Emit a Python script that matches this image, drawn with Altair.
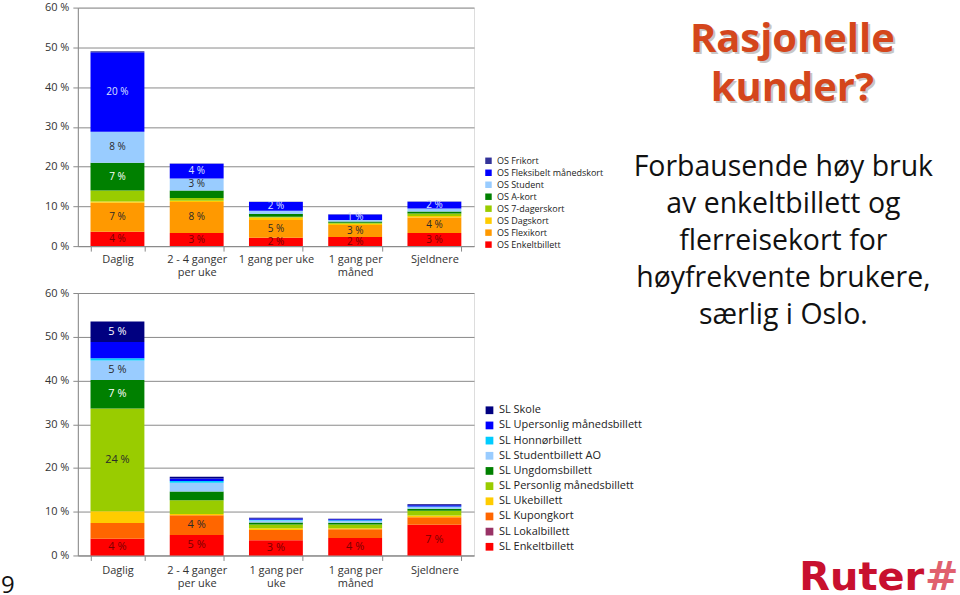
import altair as alt
import pandas as pd

# ---------------- data ----------------
OS_CATS = ["Daglig", "2 - 4 ganger|per uke", "1 gang per uke", "1 gang per|måned", "Sjeldnere"]
SL_CATS = ["Daglig", "2 - 4 ganger|per uke", "1 gang per|uke", "1 gang per|måned", "Sjeldnere"]

# stacking order: bottom -> top
OS_SERIES = ["OS Enkeltbillett", "OS Flexikort", "OS Dagskort", "OS 7-dagerskort",
             "OS A-kort", "OS Student", "OS Fleksibelt månedskort", "OS Frikort"]
OS_COLORS = ["#FF0000", "#FF9900", "#FFCC00", "#99CC00",
             "#008000", "#99CCFF", "#0000FF", "#333399"]
OS_VALUES = {
    "OS Enkeltbillett":         [3.6, 3.3, 2.1, 2.3, 3.3],
    "OS Flexikort":             [7.3, 7.8, 4.5, 3.0, 3.9],
    "OS Dagskort":              [0.3, 0.3, 0.6, 0.3, 0.4],
    "OS 7-dagerskort":          [2.8, 0.7, 0.2, 0.25, 0.6],
    "OS A-kort":                [7.0, 1.9, 0.7, 0.35, 0.5],
    "OS Student":               [7.8, 3.0, 0.8, 0.35, 0.75],
    "OS Fleksibelt månedskort": [20.0, 3.7, 2.2, 1.4, 1.7],
    "OS Frikort":               [0.2, 0.1, 0.05, 0.05, 0.05],
}
OS_LABELS = {
    "OS Enkeltbillett":         ["4 %", "3 %", "2 %", "2 %", "3 %"],
    "OS Flexikort":             ["7 %", "8 %", "5 %", "3 %", "4 %"],
    "OS A-kort":                ["7 %", "", "", "", ""],
    "OS Student":               ["8 %", "3 %", "", "", ""],
    "OS Fleksibelt månedskort": ["20 %", "4 %", "2 %", "1 %", "2 %"],
}

SL_SERIES = ["SL Enkeltbillett", "SL Lokalbillett", "SL Kupongkort", "SL Ukebillett",
             "SL Personlig månedsbillett", "SL Ungdomsbillett", "SL Studentbillett AO",
             "SL Honnørbillett", "SL Upersonlig månedsbillett", "SL Skole"]
SL_COLORS = ["#FF0000", "#993366", "#FF6600", "#FFCC00", "#99CC00",
             "#008000", "#99CCFF", "#00CCFF", "#0000FF", "#000080"]
SL_VALUES = {
    "SL Enkeltbillett":            [3.8, 4.7, 3.5, 4.0, 7.0],
    "SL Lokalbillett":             [0.0, 0.0, 0.0, 0.0, 0.0],
    "SL Kupongkort":               [3.6, 4.5, 2.3, 2.0, 1.75],
    "SL Ukebillett":               [2.7, 0.3, 0.4, 0.2, 0.4],
    "SL Personlig månedsbillett":  [23.5, 3.1, 0.9, 0.9, 1.1],
    "SL Ungdomsbillett":           [6.5, 2.0, 0.45, 0.4, 0.45],
    "SL Studentbillett AO":        [4.5, 2.0, 0.45, 0.4, 0.4],
    "SL Honnørbillett":            [0.5, 0.4, 0.15, 0.15, 0.1],
    "SL Upersonlig månedsbillett": [3.7, 0.6, 0.3, 0.25, 0.3],
    "SL Skole":                    [4.7, 0.4, 0.15, 0.1, 0.2],
}
SL_LABELS = {
    "SL Enkeltbillett":           ["4 %", "5 %", "3 %", "4 %", "7 %"],
    "SL Kupongkort":              ["", "4 %", "", "", ""],
    "SL Personlig månedsbillett": ["24 %", "", "", "", ""],
    "SL Ungdomsbillett":          ["7 %", "", "", "", ""],
    "SL Studentbillett AO":       ["5 %", "", "", "", ""],
    "SL Skole":                   ["5 %", "", "", "", ""],
}

TITLE_LINES = ["Rasjonelle", "kunder?"]
BODY_LINES = ["Forbausende høy bruk", "av enkeltbillett og", "flerreisekort for",
              "høyfrekvente brukere,", "særlig i Oslo."]
SLIDE_NO = "9"
LOGO = "Ruter"

FONT = "Open Sans"


def build_df(cats, series, values, labels):
    rows = []
    for si, s in enumerate(series):
        for ci, c in enumerate(cats):
            rows.append({"cat": c, "series": s, "value": values[s][ci],
                         "order": si, "label": labels.get(s, [""] * len(cats))[ci]})
    return pd.DataFrame(rows)


def y_axis():
    return alt.Axis(values=[0, 10, 20, 30, 40, 50, 60], labelExpr="datum.value + ' %'",
                    grid=True, gridColor="#8a8a8a", gridWidth=1, tickColor="#8a8a8a",
                    tickSize=5, domainColor="#8a8a8a", labelFont=FONT, labelFontSize=11,
                    labelColor="#333333", labelPadding=4, title=None)


def x_axis(pad):
    return alt.Axis(labelExpr="split(datum.label, '|')", labelAngle=0, tickBand="extent",
                    tickSize=5, tickColor="#8a8a8a", domainColor="#8a8a8a",
                    labelFont=FONT, labelFontSize=11, labelColor="#333333",
                    labelLineHeight=13, labelPadding=pad, title=None)


def stacked_chart(df, cats, series, colors, legend_x, legend_y,
                  legend_font, legend_row_pad, symbol_size, label_size, xpad,
                  light_series, maroon_series, pale_series):
    legend_domain = list(reversed(series))
    legend_range = list(reversed(colors))
    base = alt.Chart(df).transform_stack(
        stack="value", groupby=["cat"], as_=["y0", "y1"],
        sort=[alt.SortField("order", order="ascending")]
    ).transform_calculate(mid="(datum.y0 + datum.y1) / 2")

    xenc = alt.X("cat:N", sort=cats, axis=x_axis(xpad),
                 scale=alt.Scale(paddingInner=0.32, paddingOuter=0.16))
    bars = base.mark_bar(stroke=None).encode(
        x=xenc,
        y=alt.Y("y0:Q", scale=alt.Scale(domain=[0, 60], nice=False), axis=y_axis()),
        y2="y1:Q",
        color=alt.Color("series:N", scale=alt.Scale(domain=legend_domain, range=legend_range),
                        legend=alt.Legend(orient="none", legendX=legend_x, legendY=legend_y,
                                          title=None, symbolType="square",
                                          symbolSize=symbol_size, symbolStrokeWidth=0,
                                          symbolOpacity=1, labelFont=FONT,
                                          labelFontSize=legend_font, labelColor="#222222",
                                          rowPadding=legend_row_pad, labelOffset=4)),
    )
    light_test = "indexof(" + str(light_series) + ", datum.series) >= 0"
    maroon_test = "indexof(" + str(maroon_series) + ", datum.series) >= 0"
    pale_test = "indexof(" + str(pale_series) + ", datum.series) >= 0"
    labels = base.transform_filter("datum.label != ''").transform_calculate(
        lc=f"{light_test} ? '#ffffff' : ({pale_test} ? '#dde3ff' : ({maroon_test} ? '#7a0000' : '#2a2a2a'))"
    ).mark_text(font=FONT, fontSize=label_size, baseline="middle").encode(
        x=xenc,
        y=alt.Y("mid:Q", scale=alt.Scale(domain=[0, 60], nice=False), axis=y_axis()),
        text="label:N",
        color=alt.Color("lc:N", scale=None),
    )
    return bars, labels


W = 397
TOP_H = 239
BOT_H = 263

os_df = build_df(OS_CATS, OS_SERIES, OS_VALUES, OS_LABELS)
sl_df = build_df(SL_CATS, SL_SERIES, SL_VALUES, SL_LABELS)

os_bars, os_labels = stacked_chart(
    os_df, OS_CATS, OS_SERIES, OS_COLORS, 407, 149, 9, 2, 42, 10, 2,
    ["OS A-kort", "OS Frikort"], ["OS Enkeltbillett"], ["OS Fleksibelt månedskort"])
sl_bars, sl_labels = stacked_chart(
    sl_df, SL_CATS, SL_SERIES, SL_COLORS, 407, 112, 11, 3.2, 60, 11, 4,
    ["SL Ungdomsbillett", "SL Skole", "SL Upersonlig månedsbillett"],
    ["SL Enkeltbillett"], [])

one = pd.DataFrame({"k": [0]})

title_shadow = alt.Chart(one).mark_text(
    font=FONT, fontSize=40, fontWeight="bold", color="#9a9a9a", opacity=0.55,
    align="center", baseline="alphabetic", lineHeight=50
).encode(x=alt.value(718), y=alt.value(46), text=alt.value(TITLE_LINES))
title_txt = alt.Chart(one).mark_text(
    font=FONT, fontSize=40, fontWeight="bold", color="#D4461C",
    align="center", baseline="alphabetic", lineHeight=50
).encode(x=alt.value(716), y=alt.value(44), text=alt.value(TITLE_LINES))
body_txt = alt.Chart(one).mark_text(
    font=FONT, fontSize=28.5, color="#111111",
    align="center", baseline="alphabetic", lineHeight=37
).encode(x=alt.value(707), y=alt.value(169), text=alt.value(BODY_LINES))

top = alt.layer(os_bars, os_labels, title_shadow, title_txt, body_txt).properties(
    width=W, height=TOP_H)

slide_no = alt.Chart(one).mark_text(
    font=FONT, fontSize=24, color="#111111", align="left", baseline="alphabetic"
).encode(x=alt.value(-77), y=alt.value(301), text=alt.value(SLIDE_NO))
logo_txt = alt.Chart(one).mark_text(
    font="DejaVu Sans", fontSize=40, fontWeight="bold", color="#C8102E",
    align="left", baseline="alphabetic"
).encode(x=alt.value(723), y=alt.value(298), text=alt.value(LOGO))
logo_hash = alt.Chart(one).mark_text(
    font="DejaVu Sans", fontSize=40, fontWeight="bold", color="#E0606E",
    align="left", baseline="alphabetic"
).encode(x=alt.value(849), y=alt.value(298), text=alt.value("#"))

bottom = alt.layer(sl_bars, sl_labels, slide_no, logo_txt, logo_hash).properties(
    width=W, height=BOT_H)

chart = alt.vconcat(top, bottom, spacing=47, bounds="flush").resolve_scale(
    color="independent").resolve_legend(color="independent").properties(
    padding={"left": 0, "top": 0, "right": 0, "bottom": 0}
).configure_view(stroke="#c8c8c8").configure(background="white")

chart.save("out.html", embed_options={"renderer": "svg", "actions": False})
